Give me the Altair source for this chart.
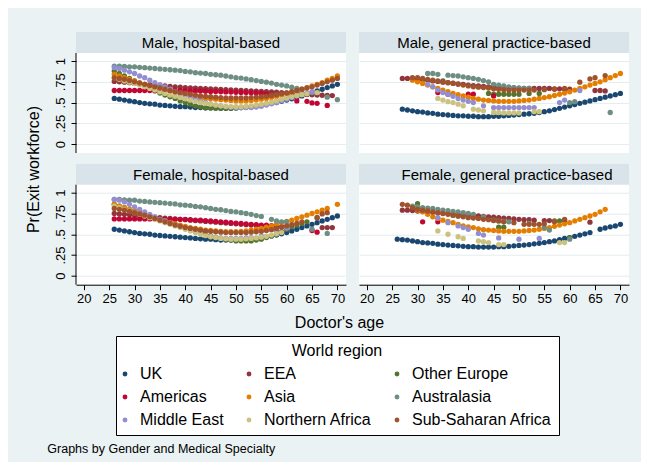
import altair as alt
import pandas as pd

N = None
AGES = [26, 27, 28, 29, 30, 31, 32, 33, 34, 35, 36, 37, 38, 39, 40, 41, 42, 43, 44, 45,
        46, 47, 48, 49, 50, 51, 52, 53, 54, 55, 56, 57, 58, 59, 60, 61, 62, 63, 64, 65,
        66, 67, 68, 69, 70]
REGIONS = ["UK", "EEA", "Other Europe", "Americas", "Asia", "Australasia",
           "Middle East", "Northern Africa", "Sub-Saharan Africa"]
COLORS = ["#1a476f", "#90353b", "#55752f", "#c10534", "#e37e00", "#6e8e84",
          "#938dd2", "#cac27e", "#a0522d"]
PANELS = ["Male, hospital-based", "Male, general practice-based",
          "Female, hospital-based", "Female, general practice-based"]
Y_TICKS = [0, 0.25, 0.5, 0.75, 1]
X_TICKS = [20, 25, 30, 35, 40, 45, 50, 55, 60, 65, 70]

# ---- Male, hospital-based
MH_UK = [.55,.54,.53,.52,.51,.50,.49,.485,.48,.47, .465,.46,.455,.45,.45,.445,.44,.44,.435,.435,
         .435,.43,.43,.43,.435,.44,.445,.45,.46,.47, .48,.49,.50,.515,.53,.545,.56,.58,.60,.62,
         .64,.66,.68,.70,.72]
MH_EEA = [.755,.75,.745,.74,.73,.725,.72,.715,.71,.705, .70,.695,.69,.685,.68,.677,.673,.67,.666,.663,
          .66,.657,.654,.651,.648,.645,.643,.64,.638,.635, .632,.628,.624,.62,.615,.61,.605,.60,.597,.594,
          .59,.588,.586,.584,N]
MH_OEU = [.88,.85,.82,.79,.76,.73,.70,.67,.64,.615, .59,.57,.55,.52,.50,.48,.46,.45,.44,.435,
          .43,.43,.43,.43,.435,.44,.445,.45,.46,.47, .485,.50,.515,.53,.55,.57,.59,.61,N,N,
          N,N,N,N,N]
MH_AME = [.645,.645,.645,.645,.645,.645,.645,.645,.645,.645, .645,.645,.645,.645,.645,.64,.64,.638,.636,.634,
          .632,.63,.628,.626,.624,.622,.62,.618,.615,.61, .60,.59,.575,N,N,N,.52,N,.515,.495,
          .49,N,.465,N,N]
MH_ASI = [.84,.82,.80,.78,.76,.74,.72,.70,.68,.665, .65,.635,.62,.605,.59,.58,.57,.56,.55,.545,
          .54,.535,.53,.525,.52,.52,.52,.525,.53,.54, .55,.56,.575,.59,.605,.62,.64,.66,.68,.70,
          .72,.74,.77,.79,.82]
MH_AUS = [.94,.94,.935,.93,.93,.925,.92,.915,.91,.905, .90,.895,.89,.885,.875,.87,.86,.855,.85,.84,
          .835,.83,.82,.81,.80,.795,.785,.775,.765,.755, .745,.735,.72,.71,.70,.685,.67,.655,N,.62,
          N,N,.565,N,.535]
MH_MEA = [.92,.91,.89,.87,.85,.82,.80,.77,.74,.715, .69,.66,.635,.61,.585,.56,.54,.52,.50,.485,
          .47,.46,.45,.445,.44,.44,.44,.44,.445,.455, .47,.485,.50,.52,.54,.56,.58,.60,.615,.63,
          N,N,N,N,N]
MH_NAF = [.80,.78,.76,.745,.73,.71,.69,.67,.65,.63, .61,.59,.575,.56,.545,.53,.515,.50,.49,.48,
          .47,.46,.455,.45,.45,.45,.455,.46,.47,.48, .49,.505,.52,.54,.555,.57,.585,.595,.605,N,
          .62,N,N,N,N]
MH_SSA = [.80,.79,.78,.765,.75,.735,.72,.705,.69,.675, .66,.645,.63,.62,.61,.60,.59,.58,.575,.57,
          .565,.56,.555,.555,.555,.555,.555,.56,.565,.57, .575,.585,.595,.605,.615,.63,.645,.66,.675,.69,
          .71,.73,.75,.77,.79]

# ---- Male, general practice-based
MG_UK = [N,.42,.41,.40,.39,.385,.375,.37,.36,.355, .35,.345,.34,.34,.335,.335,.33,.33,.33,.335,
         .335,.34,.345,.35,.355,.36,.365,.37,.38,.39, .40,.415,.43,.445,.46,.475,.49,.505,.52,.535,
         .55,.565,.58,.595,.61]
MG_EEA = [N,.79,.79,.785,.78,.775,.77,.76,.755,.745, .74,.735,.725,.72,.71,.705,.70,.695,.69,.685,
          .68,.68,.675,.675,.67,.67,.67,.67,.67,.67, .67,.665,.665,.66,.66,N,N,N,N,.645,
          .645,.64,N,N,N]
MG_OEU = [N,N,N,N,N,N,N,N,N,.76, N,N,N,N,N,N,N,N,.61,.60,
          .60,.60,.60,.60,.60,N,.61,N,.61,N, N,N,N,N,N,N,N,N,N,N,
          N,N,N,N,N]
MG_AME = [N,N,N,N,N,N,N,N,.62,N, .60,N,N,N,.60,.60,N,N,N,.58,
          N,N,N,N,N,N,N,N,N,N, N,N,N,N,N,N,N,N,N,N,
          N,N,N,N,N]
MG_ASI = [N,N,N,.77,.75,.73,.71,.69,.67,.65, .63,.61,.595,.58,.565,.55,.54,.53,.525,.52,
          .515,.515,.515,.515,.52,.525,.53,.54,.55,.56, .57,.585,.60,.615,.63,.65,.67,.69,.71,.73,
          .75,.775,.80,.825,.85]
MG_AUS = [N,N,N,N,N,N,.85,.85,.84,N, .83,.825,.82,.81,.80,.79,.78,.765,.75,.72,
          .71,.70,.69,.68,.675,.67,.67,N,N,N, N,N,N,N,.50,.51,N,N,N,N,
          N,N,.38,N,N]
MG_MEA = [N,N,N,N,N,N,.72,.69,.65,.62, .60,.575,.55,.53,.515,.50,N,.46,N,.44,
          .44,.44,.44,.44,.44,.44,.44,.44,N,N, N,N,.50,.53,N,N,.645,N,N,N,
          N,N,N,N,N]
MG_NAF = [N,N,N,N,N,N,N,N,.55,.53, .51,.50,.48,.46,N,.42,.41,.40,N,.38,
          .38,.375,.375,.375,.375,N,N,.39,.39,N, N,N,N,N,N,N,N,N,N,N,
          N,N,N,N,N]
MG_SSA = [N,N,N,.80,.80,.79,.78,.77,.76,.75, .74,.73,.72,.71,.70,.69,.685,.68,.675,.665,
          .66,.655,.65,.65,.65,.65,.65,.65,N,.655, N,.66,N,.67,N,N,.745,N,.785,.80,
          N,.825,N,N,N]

# ---- Female, hospital-based
FH_UK = [.56,.55,.54,.53,.52,.51,.505,.50,.49,.485, .48,.475,.47,.465,.46,.455,.45,.445,.44,.44,
         .435,.43,.43,.43,.43,.435,.44,.445,.45,.46, .47,.48,.49,.505,.52,.54,.56,.58,.60,.62,
         .64,.66,.68,.70,.72]
FH_EEA = [.75,.745,.74,.735,.73,.72,.715,.71,.705,.70, .695,.69,.685,.68,.675,.67,.665,.66,.655,.65,
          .645,.64,.635,.63,.625,.62,.615,.61,.605,.60, .60,.595,.59,.59,.59,N,N,N,N,N,
          N,.58,.58,.58,N]
FH_OEU = [.86,.84,.82,.80,.78,.76,.74,.72,.70,.68, .66,.64,.62,.60,.58,.56,.54,.52,.50,.48,
          .46,.45,.44,.43,.42,.42,.42,.42,.43,.44, .46,.48,.50,.53,.56,.59,.61,.63,.65,N,
          .70,N,N,N,N]
FH_AME = [.685,.685,.685,.685,.685,.685,.685,.685,.685,.685, .68,.68,.68,.68,.68,.675,.67,.67,.665,.66,
          .655,.65,.645,.64,.635,.63,.625,.62,.615,.61, .61,.605,.60,N,N,N,N,N,N,.545,
          .525,N,N,N,N]
FH_ASI = [.86,.84,.82,.80,.78,.76,.74,.72,.70,.68, .66,.64,.625,.61,.595,.58,.57,.56,.55,.545,
          .54,.535,.53,.53,.53,.535,.54,.55,.56,.57, .585,.60,.62,.64,.655,.67,.69,.71,.73,.75,
          .77,.79,.81,N,.86]
FH_AUS = [.92,.92,.915,.91,.91,.90,.895,.89,.885,.88, .875,.87,.865,.855,.85,.845,.835,.83,.82,.81,
          .80,.795,.785,.775,.77,.76,.75,.74,.725,.715, N,.68,.66,.65,.65,N,N,N,N,.56,
          N,N,.51,N,N]
FH_MEA = [.92,.91,.89,.86,.83,.80,.77,.74,.71,.68, .66,.63,.61,.59,.57,.55,.53,.51,.49,.475,
          .465,.455,.45,.45,.45,.45,.455,.46,N,.48, N,N,.54,N,.575,N,N,N,N,N,
          N,N,N,N,N]
FH_NAF = [.84,.82,.80,.78,.76,.74,.72,.70,.68,.66, .64,.62,.60,.58,.56,.54,.52,.50,.485,.47,
          .46,.45,.445,.44,.44,.44,.445,.45,.455,.465, .475,.49,.505,.52,N,N,N,N,N,N,
          N,N,N,N,N]
FH_SSA = [.81,.80,.79,.775,.76,.745,.73,.71,.69,.67, .65,.63,.61,.595,.58,.57,.56,.55,.54,.535,
          .53,.525,.52,.52,.52,.52,.52,.525,.53,.535, .545,.555,.57,.585,.60,.615,.63,.65,N,N,
          .70,.745,.76,N,N]

# ---- Female, general practice-based
FG_UK = [.44,.435,.43,.42,.41,.40,.395,.39,.38,.375, .37,.365,.36,.355,.35,.35,.345,.345,.345,.345,
         .35,.35,.355,.36,.365,.37,.375,.385,.39,.40, .41,.42,.435,.45,.46,.475,.49,.505,.52,N,
         .56,.575,.59,.60,.62]
FG_EEA = [N,.79,.79,.785,.78,.775,.77,.765,.76,.755, .75,.745,.74,.735,.73,.725,.72,.715,.71,.705,
          .70,.695,.69,.685,.68,.675,.675,.67,N,.665, .665,N,N,.665,N,N,N,N,.645,N,
          N,N,N,N,N]
FG_OEU = [N,N,N,N,.87,N,N,N,N,N, N,.73,.72,N,N,N,N,N,N,N,
          .585,.585,N,N,N,N,N,N,N,N, N,.66,.66,N,.46,N,N,N,N,N,
          N,N,N,N,N]
FG_AME = [N,N,N,N,N,.65,N,N,.65,N, N,N,N,N,N,N,N,N,N,N,
          N,N,N,N,N,N,N,N,N,N, N,N,N,N,N,N,N,N,N,N,
          N,N,N,N,N]
FG_ASI = [N,N,N,N,.79,.77,.74,.71,.69,.67, .655,.64,.62,.60,.59,.58,.565,.555,.55,.545,
          .54,.535,.535,.535,.535,.54,.545,.55,.56,.57, .58,.595,.61,.625,.64,.66,.68,.70,.72,.74,
          .77,.80,N,N,N]
FG_AUS = [N,N,N,.84,.83,.82,.815,.81,.80,.79, .785,.775,.77,.76,.75,.74,N,.71,N,.67,
          .66,.655,.65,N,N,N,.63,N,N,.58, .55,N,N,N,.44,N,N,N,N,N,
          N,N,N,N,N]
FG_MEA = [N,N,N,N,N,N,N,N,.70,N, .64,N,.60,.58,.56,N,.51,.49,N,N,
          .455,N,N,N,.44,N,N,N,.45,N, N,N,N,N,N,N,N,N,N,N,
          N,N,N,N,N]
FG_NAF = [N,N,N,N,N,N,N,N,.54,N, .50,N,.47,.45,N,N,.42,.41,.40,N,
          .375,.375,N,N,N,N,N,N,N,N, N,N,.40,.40,N,N,N,N,N,N,
          N,N,N,N,N]
FG_SSA = [N,.86,.85,.82,.80,.79,.78,.77,.76,.75, .74,.73,.72,.71,.70,.695,.69,.68,.675,.665,
          .66,.65,N,.64,N,.62,.62,.62,.62,.625, N,.65,N,.68,N,N,N,N,N,N,
          N,N,N,N,N]

SERIES = {
    PANELS[0]: [MH_UK, MH_EEA, MH_OEU, MH_AME, MH_ASI, MH_AUS, MH_MEA, MH_NAF, MH_SSA],
    PANELS[1]: [MG_UK, MG_EEA, MG_OEU, MG_AME, MG_ASI, MG_AUS, MG_MEA, MG_NAF, MG_SSA],
    PANELS[2]: [FH_UK, FH_EEA, FH_OEU, FH_AME, FH_ASI, FH_AUS, FH_MEA, FH_NAF, FH_SSA],
    PANELS[3]: [FG_UK, FG_EEA, FG_OEU, FG_AME, FG_ASI, FG_AUS, FG_MEA, FG_NAF, FG_SSA],
}

rows = []
for panel_name, lists in SERIES.items():
    for region, vals in zip(REGIONS, lists):
        for age, v in zip(AGES, vals):
            if v is not None:
                rows.append({"panel": panel_name, "region": region, "age": age, "p": v})
df = pd.DataFrame(rows)

FONT = "Liberation Sans"
BG = "#eaf2f3"
HDR = "#d8e4e9"
GRID = "#e4edef"
W = 270
HH = 21
PH = 100
H = HH + PH
YMIN = -0.108
K = PH / (1.097 - YMIN)
YMAX = YMIN + H / K

LABEL_EXPR = ("datum.value == 0 ? '0' : (datum.value == 1 ? '1' : "
              "replace(format(datum.value, '.2~f'), '0.', '.'))")

LEGEND = alt.Legend(
    title="World region", orient="none", legendX=40, legendY=304, columns=3,
    direction="horizontal",
    columnPadding=22, rowPadding=7, symbolType="circle", symbolSize=24,
    symbolStrokeWidth=0, symbolOpacity=1, symbolOffset=-6, labelFont=FONT, labelFontSize=16,
    labelColor="black", labelOffset=7, titleFont=FONT, titleFontSize=16,
    titleFontWeight="normal", titleColor="black", titleAnchor="middle",
    titlePadding=7, fillColor="white", strokeColor="black", padding=7,
)

CSCALE = alt.Scale(domain=REGIONS, range=COLORS)
HDR_DX = {PANELS[3]: 13}


def panel(name, left, bottom):
    d = df[df["panel"] == name]
    if left:
        yaxis_kw = dict(
            values=Y_TICKS, labelExpr=LABEL_EXPR, labelAngle=270, labelAlign="center",
            labelBaseline="middle", labelPadding=10.5, labelFont=FONT, labelFontSize=13,
            labelColor="black", labelOverlap=False, labelFlush=False, tickSize=5,
            tickColor="black", domain=False, grid=True, gridColor=GRID, gridWidth=1,
        )
        if not bottom:
            yaxis = alt.Axis(title="Pr(Exit workforce)", titleFont=FONT, titleFontSize=16,
                             titleFontWeight="normal", titleColor="black", titleAngle=270,
                             titleAlign="center", titleBaseline="middle", titleX=-43,
                             titleY=137, **yaxis_kw)
        else:
            yaxis = alt.Axis(title=None, **yaxis_kw)
    else:
        yaxis = alt.Axis(values=Y_TICKS, labels=False, ticks=False, domain=False,
                         grid=True, gridColor=GRID, gridWidth=1, title=None)
    if bottom:
        xaxis_kw = dict(
            values=X_TICKS, format="d", labelFont=FONT, labelFontSize=13, labelColor="black",
            labelPadding=3, labelFlush=False, labelAngle=0, tickSize=5, tickColor="black",
            domainColor="black", grid=False,
        )
        if left:
            xaxis = alt.Axis(title="Doctor's age", titleFont=FONT, titleFontSize=16,
                             titleFontWeight="normal", titleColor="black",
                             titleAlign="center", titleBaseline="middle",
                             titleX=263, titleY=38, **xaxis_kw)
        else:
            xaxis = alt.Axis(title=None, **xaxis_kw)
    else:
        xaxis = None

    pts = alt.Chart(d).mark_circle(size=28, opacity=1).encode(
        x=alt.X("age:Q", scale=alt.Scale(domain=[18.45, 71.7], nice=False, zero=False),
                axis=xaxis),
        y=alt.Y("p:Q", scale=alt.Scale(domain=[YMIN, YMAX], nice=False, zero=False),
                axis=yaxis),
        color=alt.Color("region:N", scale=CSCALE, legend=LEGEND),
    )
    tdf = pd.DataFrame({"t": [name]})
    hdr = alt.Chart(tdf).mark_rect(color=HDR).encode(
        x=alt.value(0), x2=alt.value(W), y=alt.value(0), y2=alt.value(HH))
    txt = alt.Chart(tdf).mark_text(font=FONT, fontSize=15, color="black",
                                   align="center", baseline="middle").encode(
        x=alt.value(W / 2 + HDR_DX.get(name, 0)), y=alt.value(HH / 2 + 0.5), text="t:N")
    layers = [pts, hdr, txt]
    if left:
        layers.append(alt.Chart(tdf).mark_rule(color="black", strokeWidth=1).encode(
            x=alt.value(0), y=alt.value(HH), y2=alt.value(H)))
    if left and bottom:
        ndf = pd.DataFrame({"t": ["Graphs by Gender and Medical Specialty"]})
        layers.append(alt.Chart(ndf).mark_text(font=FONT, fontSize=12.5, color="black",
                                               align="left", baseline="middle").encode(
            x=alt.value(-28.7), y=alt.value(285), text="t:N"))
    return alt.layer(*layers).properties(width=W, height=H)


chart = alt.concat(
    panel(PANELS[0], True, False),
    panel(PANELS[1], False, False),
    panel(PANELS[2], True, True),
    panel(PANELS[3], False, True),
    columns=2,
    spacing={"row": 10.7, "column": 13},
    bounds="flush",
).properties(
    padding={"left": 17, "top": 24, "right": 12, "bottom": 6}
).configure(
    background=BG, font=FONT
).configure_view(
    fill="white", stroke=None
)

chart.save("out.html", embed_options={"renderer": "svg", "actions": False})
